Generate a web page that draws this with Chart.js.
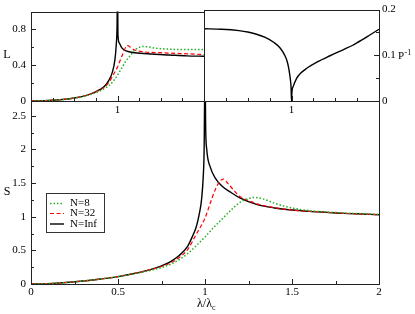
<!DOCTYPE html>
<html>
<head>
<meta charset="utf-8">
<script src="https://cdn.jsdelivr.net/npm/chart.js@4.4.1/dist/chart.umd.min.js"></script>
<style>
    html, body { margin: 0; padding: 0; background: #fff; }
    #wrap { position: relative; width: 415px; height: 314px; }
    #wrap canvas { position: absolute; left: 0; top: 0; }
</style>
</head>
<body>
<div id="wrap">
    <canvas id="chartL" width="415" height="314"></canvas>
    <canvas id="chartP" width="415" height="314"></canvas>
    <canvas id="chartS" width="415" height="314"></canvas>
</div>
<script>
// ---- data ----
// bottom panel: S vs lambda/lambda_c
const sLam8 = [0, 0.1, 0.2, 0.3, 0.4, 0.5, 0.6, 0.7, 0.8, 0.85, 0.9, 0.95, 1.0, 1.05, 1.1, 1.15, 1.2, 1.25, 1.28, 1.32, 1.36, 1.4, 1.5, 1.6, 1.7, 1.8, 1.9, 2.0];
const s8 = [0, 0.006, 0.022, 0.045, 0.075, 0.108, 0.155, 0.21, 0.29, 0.36, 0.45, 0.57, 0.7, 0.84, 0.97, 1.1, 1.21, 1.27, 1.285, 1.275, 1.24, 1.2, 1.13, 1.09, 1.07, 1.055, 1.045, 1.035];
const sLam32 = [0, 0.1, 0.2, 0.3, 0.4, 0.5, 0.6, 0.7, 0.75, 0.8, 0.85, 0.9, 0.95, 1.0, 1.03, 1.06, 1.09, 1.105, 1.13, 1.16, 1.2, 1.25, 1.3, 1.4, 1.5, 1.6, 1.7, 1.8, 1.9, 2.0];
const s32 = [0, 0.006, 0.022, 0.045, 0.075, 0.11, 0.16, 0.22, 0.26, 0.31, 0.39, 0.51, 0.74, 0.98, 1.2, 1.41, 1.54, 1.56, 1.5, 1.41, 1.3, 1.24, 1.19, 1.135, 1.1, 1.08, 1.065, 1.05, 1.04, 1.03];
const sLamInf = [0, 0.1, 0.2, 0.3, 0.4, 0.5, 0.6, 0.7, 0.75, 0.8, 0.85, 0.9, 0.93, 0.95, 0.97, 0.98, 0.99, 0.995, 0.999, 1.001, 1.004, 1.01, 1.03, 1.06, 1.1, 1.15, 1.2, 1.3, 1.4, 1.5, 1.6, 1.7, 1.8, 1.9, 2.0];
const sInf = [0, 0.006, 0.022, 0.045, 0.075, 0.11, 0.16, 0.225, 0.27, 0.33, 0.42, 0.56, 0.72, 0.85, 1.08, 1.25, 1.6, 2.0, 3.0, 3.0, 2.3, 2.0, 1.74, 1.57, 1.45, 1.36, 1.28, 1.18, 1.13, 1.1, 1.08, 1.065, 1.05, 1.04, 1.03];

// top left panel: L vs lambda
const lLam8 = [0, 0.2, 0.4, 0.5, 0.6, 0.7, 0.8, 0.85, 0.9, 0.95, 1.0, 1.05, 1.1, 1.15, 1.2, 1.25, 1.3, 1.35, 1.45, 1.6, 1.8, 2.0];
const l8 = [0, 0.005, 0.02, 0.033, 0.05, 0.078, 0.115, 0.14, 0.17, 0.22, 0.29, 0.37, 0.45, 0.51, 0.57, 0.6, 0.61, 0.605, 0.59, 0.58, 0.575, 0.575];
const lLam32 = [0, 0.2, 0.4, 0.5, 0.6, 0.7, 0.8, 0.85, 0.9, 0.95, 1.0, 1.05, 1.1, 1.12, 1.15, 1.2, 1.3, 1.5, 1.75, 2.0];
const l32 = [0, 0.005, 0.02, 0.033, 0.052, 0.083, 0.125, 0.155, 0.21, 0.29, 0.38, 0.5, 0.61, 0.62, 0.6, 0.57, 0.55, 0.54, 0.53, 0.52];
const lLamInf = [0, 0.2, 0.4, 0.5, 0.6, 0.7, 0.8, 0.85, 0.9, 0.94, 0.97, 0.985, 0.995, 0.999, 1.001, 1.005, 1.02, 1.05, 1.1, 1.2, 1.4, 1.6, 1.8, 2.0];
const lInf = [0, 0.005, 0.02, 0.033, 0.052, 0.083, 0.13, 0.165, 0.23, 0.32, 0.46, 0.62, 0.85, 1.2, 1.2, 0.75, 0.65, 0.595, 0.56, 0.54, 0.525, 0.515, 0.505, 0.5];

// top right panel: P^-1 vs lambda
const pLam = [0, 0.2, 0.4, 0.5, 0.6, 0.7, 0.8, 0.87, 0.92, 0.95, 0.97, 0.985, 0.995, 1.0, 1.005, 1.02, 1.06, 1.1, 1.17, 1.3, 1.44, 1.6, 1.7, 1.8, 1.9, 2.0];
const pInv = [0.158, 0.157, 0.154, 0.151, 0.146, 0.139, 0.128, 0.116, 0.101, 0.087, 0.07, 0.05, 0.03, 0, 0.02, 0.032, 0.05, 0.06, 0.071, 0.086, 0.099, 0.113, 0.122, 0.133, 0.145, 0.157];

// ticks
const xTicksS = [0, 0.5, 1, 1.5, 2];
const xMinorS = [0.25, 0.75, 1.25, 1.75];
const yTicksS = [0, 0.5, 1, 1.5, 2, 2.5];
const yMinorS = [0.25, 0.75, 1.25, 1.75, 2.25];
const xTicksTop = [1];
const xMinorTop = [0.25, 0.5, 0.75, 1.25, 1.5, 1.75];
const yTicksL = [0, 0.4, 0.8];
const yMinorL = [0.2, 0.6];
const yTicksP = [0, 0.1, 0.2];
const yMinorP = [0.05, 0.15];

const FONT = 'Liberation Serif';
const GREEN = '#22b022';
const RED = '#ff0000';
const BLACK = '#000000';

const pts = (xs, ys) => xs.map((x, i) => ({ x: x, y: ys[i] }));

function series(label, xs, ys, color, dash, width) {
    return {
        label: label,
        data: pts(xs, ys),
        borderColor: color,
        borderDash: dash,
        borderWidth: width,
        pointRadius: 0,
        showLine: true,
        fill: false,
        cubicInterpolationMode: 'monotone'
    };
}

// size = fixed width (y) or height (x) of the axis box
function axis(pos, min, max, ticks, pad, size) {
    return {
        type: 'linear',
        position: pos,
        min: min,
        max: max,
        afterFit: s => { if (s.isHorizontal()) s.height = size; else s.width = size; },
        afterBuildTicks: s => { s.ticks = ticks.map(v => ({ value: v })); },
        grid: { display: false, drawTicks: false },
        border: { display: false },
        ticks: {
            padding: pad,
            color: '#000',
            maxRotation: 0,
            autoSkip: false,
            font: { family: FONT, size: 11 },
            callback: v => String(v)
        }
    };
}

// frame around the plot area plus inward tick marks
const frameTicks = {
    id: 'frameTicks',
    afterDatasetsDraw(chart, args, opts) {
        const { ctx, chartArea: a, scales } = chart;
        ctx.save();
        ctx.strokeStyle = '#222';
        ctx.lineWidth = 1;
        ctx.beginPath();
        for (const t of opts.marks) {
            const s = scales[t.axis];
            for (const v of t.values) {
                const p = Math.round(s.getPixelForValue(v)) + 0.5;
                if (t.side === 'bottom') {
                    ctx.moveTo(p, a.bottom);
                    ctx.lineTo(p, a.bottom - t.len);
                } else if (t.side === 'left') {
                    ctx.moveTo(a.left, p);
                    ctx.lineTo(a.left + t.len, p);
                } else {
                    ctx.moveTo(a.right, p);
                    ctx.lineTo(a.right - t.len, p);
                }
            }
        }
        ctx.stroke();
        ctx.strokeRect(Math.round(a.left) + 0.5, Math.round(a.top) + 0.5,
            Math.round(a.right - a.left), Math.round(a.bottom - a.top));
        ctx.restore();
    }
};

function baseOptions(padding, scales, marks) {
    return {
        responsive: false,
        animation: false,
        layout: { padding: padding, autoPadding: false },
        plugins: {
            legend: { display: false },
            tooltip: { enabled: false },
            frameTicks: { marks: marks }
        },
        scales: scales
    };
}

// ---- top left: L ----
new Chart(document.getElementById('chartL'), {
    type: 'scatter',
    data: {
        datasets: [
            series('N=8', lLam8, l8, GREEN, [1.5, 2], 1.5),
            series('N=32', lLam32, l32, RED, [4, 2.5], 1.2),
            series('N=Inf', lLamInf, lInf, BLACK, [], 1.4)
        ]
    },
    options: baseOptions(
        { left: 0, right: 211, top: 4, bottom: 198 },
        { x: axis('bottom', 0, 2, xTicksTop, 3, 15), y: axis('left', 0, 1, yTicksL, 5, 31) },
        [
            { axis: 'x', side: 'bottom', values: xTicksTop, len: 5 },
            { axis: 'x', side: 'bottom', values: xMinorTop, len: 3 },
            { axis: 'y', side: 'left', values: yTicksL, len: 5 },
            { axis: 'y', side: 'left', values: yMinorL, len: 3 }
        ]
    ),
    plugins: [frameTicks, {
        id: 'labelL',
        afterDraw(chart) {
            const ctx = chart.ctx;
            ctx.save();
            ctx.fillStyle = '#000';
            ctx.font = '12px "' + FONT + '"';
            ctx.textAlign = 'center';
            ctx.textBaseline = 'middle';
            ctx.fillText('L', 7, 55);
            ctx.restore();
        }
    }]
});

// ---- top right: P^-1 ----
new Chart(document.getElementById('chartP'), {
    type: 'scatter',
    data: {
        datasets: [series('P', pLam, pInv, BLACK, [], 1.4)]
    },
    options: baseOptions(
        { left: 204, right: 0, top: 4, bottom: 198 },
        { x: axis('bottom', 0, 2, xTicksTop, 3, 15), y: axis('right', 0, 0.2, yTicksP, 3, 36) },
        [
            { axis: 'x', side: 'bottom', values: xTicksTop, len: 5 },
            { axis: 'x', side: 'bottom', values: xMinorTop, len: 3 },
            { axis: 'y', side: 'right', values: yTicksP, len: 5 },
            { axis: 'y', side: 'right', values: yMinorP, len: 3 }
        ]
    ),
    plugins: [frameTicks, {
        id: 'labelP',
        afterDraw(chart) {
            const ctx = chart.ctx;
            const y = chart.scales.y.getPixelForValue(0.1);
            ctx.save();
            ctx.fillStyle = '#000';
            ctx.textBaseline = 'alphabetic';
            ctx.font = '11px "' + FONT + '"';
            ctx.fillText('P', 398, y + 4);
            const w = ctx.measureText('P').width;
            ctx.font = '8px "' + FONT + '"';
            ctx.fillText('-1', 398 + w + 0.5, y);
            ctx.restore();
        }
    }]
});

// ---- bottom: S ----
new Chart(document.getElementById('chartS'), {
    type: 'scatter',
    data: {
        datasets: [
            series('N=8', sLam8, s8, GREEN, [1.5, 2], 1.5),
            series('N=32', sLam32, s32, RED, [4, 2.5], 1.2),
            series('N=Inf', sLamInf, sInf, BLACK, [], 1.4)
        ]
    },
    options: baseOptions(
        { left: 0, right: 36, top: 101, bottom: 0 },
        { x: axis('bottom', 0, 2, xTicksS, 2, 30), y: axis('left', 0, 2.72, yTicksS, 5, 31) },
        [
            { axis: 'x', side: 'bottom', values: xTicksS, len: 5 },
            { axis: 'x', side: 'bottom', values: xMinorS, len: 3 },
            { axis: 'y', side: 'left', values: yTicksS, len: 5 },
            { axis: 'y', side: 'left', values: yMinorS, len: 3 }
        ]
    ),
    plugins: [frameTicks, {
        id: 'labelsS',
        afterDraw(chart) {
            const ctx = chart.ctx;
            ctx.save();
            ctx.fillStyle = '#000';
            ctx.font = '12px "' + FONT + '"';
            ctx.textAlign = 'center';
            ctx.textBaseline = 'middle';
            ctx.fillText('S', 7, 192);

            // x title: lambda / lambda_c
            ctx.textAlign = 'left';
            ctx.textBaseline = 'alphabetic';
            ctx.fillText('λ/λ', 197, 307);
            const w = ctx.measureText('λ/λ').width;
            ctx.font = '8px "' + FONT + '"';
            ctx.fillText('c', 197 + w, 310);

            // legend box
            ctx.strokeStyle = '#333';
            ctx.lineWidth = 1;
            ctx.strokeRect(46.5, 193.5, 58, 39);
            ctx.font = '11px "' + FONT + '"';
            ctx.textBaseline = 'middle';
            const rows = [203.5, 213.5, 224];
            chart.data.datasets.forEach((ds, i) => {
                const y = rows[i];
                ctx.beginPath();
                ctx.strokeStyle = ds.borderColor;
                ctx.lineWidth = ds.borderWidth;
                ctx.setLineDash(ds.borderDash);
                ctx.moveTo(50, y);
                ctx.lineTo(64, y);
                ctx.stroke();
                ctx.setLineDash([]);
                ctx.fillText(ds.label, 70, y);
            });
            ctx.restore();
        }
    }]
});
</script>
</body>
</html>
